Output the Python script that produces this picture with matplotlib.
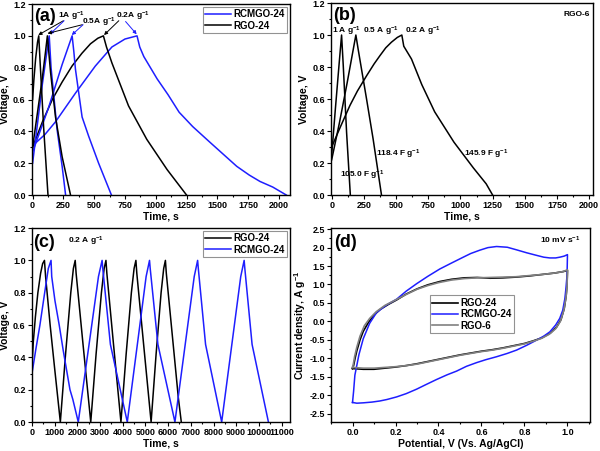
import matplotlib
matplotlib.use("Agg")
import matplotlib.pyplot as plt
from matplotlib.ticker import MultipleLocator

# --------------------------------
# STYLE
# --------------------------------
plt.rcParams.update({
    "font.family": ["Liberation Sans Narrow", "Liberation Sans", "DejaVu Sans"],
    "font.weight": "bold",
    "axes.labelweight": "bold",
    "axes.unicode_minus": False,
    "mathtext.fontset": "custom",
    "mathtext.rm": "Liberation Sans Narrow:bold",
    "mathtext.it": "Liberation Sans Narrow:bold",
    "mathtext.bf": "Liberation Sans Narrow:bold",
    "mathtext.default": "rm",
    "axes.linewidth": 1.0,
})

BLUE = "#1e1eff"
GRAY = "#808080"
TICK_SIZE = 6.5
LABEL_SIZE = 7.5
PANEL_SIZE = 13
LEGEND_SIZE = 7
NOTE_SIZE = 6
LW = 1.1

# --------------------------------
# DATA - (a) GCD, RGO-24 and RCMGO-24
# --------------------------------
a_rgo_1_t = [0, 10, 25, 40, 50, 60, 90, 125]
a_rgo_1_v = [0.6, 0.72, 0.86, 0.96, 1.0, 0.85, 0.42, 0.0]
a_rgo_05_t = [0, 40, 78, 105, 120, 146, 186, 240, 308]
a_rgo_05_v = [0.3, 0.52, 0.73, 0.9, 1.0, 0.77, 0.49, 0.24, 0.0]
a_rgo_02_t = [0, 80, 160, 240, 320, 400, 470, 530, 575, 600, 644, 779, 927, 1092, 1250]
a_rgo_02_v = [0.3, 0.46, 0.6, 0.71, 0.81, 0.89, 0.95, 0.985, 1.0, 0.93, 0.83, 0.56, 0.35, 0.16, 0.0]

a_rcm_1_t = [0, 40, 80, 120, 135, 150, 199, 240, 268]
a_rcm_1_v = [0.2, 0.45, 0.7, 0.92, 1.0, 0.8, 0.41, 0.18, 0.0]
a_rcm_05_t = [0, 130, 240, 321, 335, 348, 402, 455, 536, 640]
a_rcm_05_v = [0.27, 0.55, 0.82, 1.0, 0.9, 0.79, 0.49, 0.37, 0.2, 0.0]
a_rcm_02_t = [0, 100, 186, 348, 509, 644, 750, 848, 870, 903, 1011, 1100, 1190, 1300, 1442, 1658, 1760, 1847, 1950, 2060]
a_rcm_02_v = [0.31, 0.38, 0.46, 0.64, 0.81, 0.93, 0.98, 1.0, 0.93, 0.87, 0.73, 0.63, 0.52, 0.43, 0.33, 0.18, 0.125, 0.085, 0.05, 0.0]

# --------------------------------
# DATA - (b) GCD, RGO-6
# --------------------------------
b_1_t = [0, 30, 60, 77, 90, 116, 145]
b_1_v = [0.25, 0.55, 0.84, 1.0, 0.81, 0.39, 0.0]
b_05_t = [0, 60, 120, 188, 206, 271, 322, 387]
b_05_v = [0.22, 0.45, 0.7, 1.0, 0.91, 0.6, 0.35, 0.0]
b_02_t = [0, 70, 142, 200, 271, 330, 374, 420, 464, 510, 545, 560, 620, 700, 800, 950, 1100, 1200, 1250]
b_02_v = [0.3, 0.43, 0.56, 0.65, 0.745, 0.82, 0.87, 0.92, 0.955, 0.985, 1.0, 0.93, 0.85, 0.69, 0.52, 0.33, 0.17, 0.07, 0.0]

# --------------------------------
# DATA - (c) cycling at 0.2 A/g
# --------------------------------
c_rgo_t = [0, 60, 150, 260, 380, 470, 550,
           600, 800, 1000, 1250,
           1480, 1710, 1825, 1905, 1945, 2250, 2590,
           2825, 3060, 3180, 3260, 3300, 3600, 3920,
           4150, 4380, 4500, 4580, 4620, 4920, 5250,
           5470, 5690, 5805, 5880, 5920, 6230, 6450, 6580]
c_rgo_v = [0.35, 0.5, 0.65, 0.8, 0.92, 0.98, 1.0,
           0.9, 0.6, 0.33, 0.0,
           0.42, 0.8, 0.95, 1.0, 0.92, 0.48, 0.0,
           0.42, 0.8, 0.95, 1.0, 0.92, 0.47, 0.0,
           0.42, 0.8, 0.95, 1.0, 0.92, 0.48, 0.0,
           0.42, 0.8, 0.95, 1.0, 0.92, 0.47, 0.15, 0.0]
c_rcm_t = [0, 170, 350, 570, 720, 840,
           870, 1013, 1200, 1380, 1674, 1800, 2040,
           2565, 2930, 3090, 3120, 3456, 4200,
           4690, 5030, 5180, 5210, 5550, 6300,
           6800, 7150, 7300, 7330, 7650, 8360,
           8855, 9200, 9350, 9380, 9700, 10420]
c_rcm_v = [0.3, 0.45, 0.6, 0.81, 0.95, 1.0,
           0.9, 0.75, 0.6, 0.44, 0.2, 0.14, 0.0,
           0.53, 0.9, 1.0, 0.95, 0.48, 0.0,
           0.53, 0.9, 1.0, 0.95, 0.48, 0.0,
           0.53, 0.9, 1.0, 0.95, 0.48, 0.0,
           0.53, 0.9, 1.0, 0.95, 0.48, 0.0]

# --------------------------------
# DATA - (d) CV at 10 mV/s
# --------------------------------
d_rgo24_e = [0.0, 0.005, 0.012, 0.02, 0.035, 0.05, 0.075, 0.1, 0.13, 0.17, 0.205, 0.25, 0.3, 0.35,
             0.406, 0.46, 0.52, 0.58, 0.64, 0.7, 0.76, 0.82, 0.88, 0.94, 0.98, 1.0,
             0.998, 0.994, 0.985, 0.97, 0.95, 0.92, 0.88, 0.84, 0.8, 0.75, 0.7, 0.65, 0.6, 0.55,
             0.5, 0.45, 0.4, 0.35, 0.3, 0.25, 0.2, 0.15, 0.1, 0.05, 0.0]
d_rgo24_i = [-1.28, -1.2, -1.0, -0.8, -0.5, -0.27, -0.02, 0.17, 0.33, 0.47, 0.58, 0.74, 0.88, 0.99,
             1.08, 1.14, 1.18, 1.19, 1.17, 1.18, 1.2, 1.23, 1.27, 1.31, 1.35, 1.38,
             1.0, 0.7, 0.35, 0.05, -0.15, -0.32, -0.45, -0.53, -0.6, -0.66, -0.72, -0.77, -0.81, -0.86,
             -0.91, -0.97, -1.03, -1.09, -1.15, -1.2, -1.24, -1.27, -1.3, -1.3, -1.28]

d_rcm_e = [0.0, 0.005, 0.011, 0.03, 0.05, 0.08, 0.112, 0.16, 0.205, 0.25, 0.298, 0.35, 0.406, 0.46,
           0.515, 0.55, 0.592, 0.63, 0.67, 0.72, 0.763, 0.81, 0.856, 0.89, 0.918, 0.945, 0.964, 0.985, 1.0,
           0.998, 0.993, 0.988, 0.978, 0.964, 0.945, 0.918, 0.89, 0.856, 0.81, 0.763, 0.72, 0.67, 0.62,
           0.577, 0.53, 0.484, 0.44, 0.39, 0.34, 0.298, 0.25, 0.205, 0.16, 0.127, 0.09, 0.05, 0.02, 0.0]
d_rcm_i = [-2.2, -1.9, -1.46, -0.9, -0.47, -0.05, 0.24, 0.45, 0.6, 0.82, 1.02, 1.22, 1.42, 1.58,
           1.74, 1.84, 1.93, 2.0, 2.03, 2.01, 1.94, 1.86, 1.79, 1.74, 1.72, 1.72, 1.74, 1.77, 1.81,
           1.25, 0.9, 0.62, 0.3, 0.08, -0.1, -0.285, -0.4, -0.51, -0.65, -0.78, -0.87, -0.96, -1.04,
           -1.12, -1.22, -1.35, -1.45, -1.58, -1.72, -1.84, -1.96, -2.05, -2.12, -2.16, -2.19, -2.21, -2.22, -2.2]

d_rgo6_e = [0.0, 0.004, 0.01, 0.02, 0.035, 0.055, 0.08, 0.11, 0.15, 0.2, 0.25, 0.3, 0.35, 0.4,
            0.46, 0.52, 0.58, 0.64, 0.7, 0.76, 0.82, 0.88, 0.94, 0.98, 1.0,
            0.998, 0.993, 0.983, 0.967, 0.945, 0.915, 0.88, 0.84, 0.8, 0.75, 0.7, 0.65, 0.6, 0.55,
            0.5, 0.45, 0.4, 0.35, 0.3, 0.25, 0.2, 0.15, 0.1, 0.05, 0.0]
d_rgo6_i = [-1.25, -1.15, -0.95, -0.7, -0.4, -0.12, 0.08, 0.26, 0.43, 0.58, 0.73, 0.87, 0.97, 1.05,
            1.12, 1.16, 1.18, 1.19, 1.2, 1.21, 1.24, 1.27, 1.31, 1.35, 1.4,
            0.95, 0.65, 0.3, 0.0, -0.2, -0.35, -0.46, -0.54, -0.61, -0.67, -0.73, -0.78, -0.82, -0.87,
            -0.92, -0.98, -1.04, -1.1, -1.16, -1.2, -1.23, -1.25, -1.27, -1.27, -1.25]

GPER = r"$\mathregular{g^{-1}}$"


def style_axes(ax, xmajor, xminor, ymajor, yminor):
    ax.xaxis.set_major_locator(MultipleLocator(xmajor))
    ax.xaxis.set_minor_locator(MultipleLocator(xminor))
    ax.yaxis.set_major_locator(MultipleLocator(ymajor))
    ax.yaxis.set_minor_locator(MultipleLocator(yminor))
    ax.tick_params(which="both", direction="out", width=0.8, labelsize=TICK_SIZE, pad=1.5)
    ax.tick_params(which="major", length=3)
    ax.tick_params(which="minor", length=1.6)
    for lab in ax.get_xticklabels() + ax.get_yticklabels():
        lab.set_fontweight("bold")


def add_legend(ax, anchor, loc="upper right"):
    leg = ax.legend(loc=loc, bbox_to_anchor=anchor, fontsize=LEGEND_SIZE, frameon=True,
                    fancybox=False, edgecolor="#777777", handlelength=2.6, handletextpad=0.3,
                    borderpad=0.25, labelspacing=0.15, borderaxespad=0)
    leg.get_frame().set_linewidth(0.8)
    return leg


fig = plt.figure(figsize=(6.0, 4.51), dpi=100)

# --------------------------------
# (a)
# --------------------------------
ax = fig.add_axes([0.0533, 0.5676, 0.43, 0.4235])
ax.plot(a_rcm_02_t, a_rcm_02_v, color=BLUE, lw=LW, label="RCMGO-24")
ax.plot(a_rgo_02_t, a_rgo_02_v, color="black", lw=LW, label="RGO-24")
ax.plot(a_rcm_1_t, a_rcm_1_v, color=BLUE, lw=LW)
ax.plot(a_rcm_05_t, a_rcm_05_v, color=BLUE, lw=LW)
ax.plot(a_rgo_1_t, a_rgo_1_v, color="black", lw=LW)
ax.plot(a_rgo_05_t, a_rgo_05_v, color="black", lw=LW)
ax.set_xlim(-5, 2090)
ax.set_ylim(0, 1.2)
style_axes(ax, 250, 125, 0.2, 0.1)
ax.set_xlabel("Time, s", fontsize=LABEL_SIZE, labelpad=1)
ax.set_ylabel("Voltage, V", fontsize=LABEL_SIZE, labelpad=2)
ax.text(10, 1.12, "(a)", fontsize=PANEL_SIZE, fontweight="bold", va="center")
ax.text(210, 1.125, "1A " + GPER, fontsize=NOTE_SIZE, va="center")
ax.text(398, 1.085, "0.5A " + GPER, fontsize=NOTE_SIZE, va="center")
ax.text(674, 1.125, "0.2A " + GPER, fontsize=NOTE_SIZE, va="center")
arrows = [
    ((250, 1.095), (46, 1.005), "black"),
    ((256, 1.095), (140, 1.01), BLUE),
    ((404, 1.07), (121, 1.015), "black"),
    ((410, 1.07), (318, 1.005), BLUE),
    ((700, 1.095), (580, 1.005), "black"),
    ((755, 1.09), (845, 1.01), BLUE),
]
for start, end, col in arrows:
    ax.annotate("", xy=end, xytext=start,
                arrowprops=dict(arrowstyle="-|>", color=col, lw=0.7,
                                mutation_scale=5, shrinkA=0, shrinkB=0))
add_legend(ax, (0.99, 0.985))

# --------------------------------
# (b)
# --------------------------------
ax = fig.add_axes([0.5517, 0.5676, 0.4367, 0.4257])
ax.plot(b_1_t, b_1_v, color="black", lw=LW)
ax.plot(b_05_t, b_05_v, color="black", lw=LW)
ax.plot(b_02_t, b_02_v, color="black", lw=LW)
ax.set_xlim(-5, 2030)
ax.set_ylim(0, 1.2)
style_axes(ax, 250, 125, 0.2, 0.1)
ax.set_xlabel("Time, s", fontsize=LABEL_SIZE, labelpad=1)
ax.set_ylabel("Voltage, V", fontsize=LABEL_SIZE, labelpad=2)
ax.text(10, 1.12, "(b)", fontsize=PANEL_SIZE, fontweight="bold", va="center")
ax.text(1800, 1.13, "RGO-6", fontsize=NOTE_SIZE, va="center")
ax.text(5, 1.02, "1 A " + GPER, fontsize=NOTE_SIZE, va="center")
ax.text(240, 1.02, "0.5 A " + GPER, fontsize=NOTE_SIZE, va="center")
ax.text(569, 1.02, "0.2 A " + GPER, fontsize=NOTE_SIZE, va="center")
ax.text(65, 0.12, "105.0 F " + GPER, fontsize=NOTE_SIZE, va="center")
ax.text(345, 0.255, "118.4 F " + GPER, fontsize=NOTE_SIZE, va="center")
ax.text(1030, 0.255, "145.9 F " + GPER, fontsize=NOTE_SIZE, va="center")

# --------------------------------
# (c)
# --------------------------------
ax = fig.add_axes([0.0533, 0.0643, 0.43, 0.430])
ax.plot(c_rgo_t, c_rgo_v, color="black", lw=LW, label="RGO-24")
ax.plot(c_rcm_t, c_rcm_v, color=BLUE, lw=LW, label="RCMGO-24")
ax.set_xlim(0, 11370)
ax.set_ylim(0, 1.2)
style_axes(ax, 1000, 500, 0.2, 0.1)
ax.set_xlabel("Time, s", fontsize=LABEL_SIZE, labelpad=1)
ax.set_ylabel("Voltage, V", fontsize=LABEL_SIZE, labelpad=2)
ax.text(60, 1.11, "(c)", fontsize=PANEL_SIZE, fontweight="bold", va="center")
ax.text(1586, 1.115, "0.2 A " + GPER, fontsize=NOTE_SIZE, va="center")
add_legend(ax, (0.99, 0.985))

# --------------------------------
# (d)
# --------------------------------
ax = fig.add_axes([0.5517, 0.0643, 0.4317, 0.430])
ax.plot(d_rgo24_e, d_rgo24_i, color="black", lw=1.2, label="RGO-24")
ax.plot(d_rcm_e, d_rcm_i, color=BLUE, lw=LW, label="RCMGO-24")
ax.plot(d_rgo6_e, d_rgo6_i, color=GRAY, lw=1.2, label="RGO-6")
ax.set_xlim(-0.1, 1.105)
ax.set_ylim(-2.73, 2.53)
style_axes(ax, 0.2, 0.1, 0.5, 0.25)
ax.set_xlabel("Potential, V (Vs. Ag/AgCl)", fontsize=LABEL_SIZE, labelpad=1)
ax.set_ylabel("Current density, A " + GPER, fontsize=LABEL_SIZE, labelpad=1)
ax.text(-0.085, 2.15, "(d)", fontsize=PANEL_SIZE, fontweight="bold", va="center")
ax.text(0.87, 2.2, "10 mV " + r"$\mathregular{s^{-1}}$", fontsize=NOTE_SIZE, va="center")
add_legend(ax, (0.545, 0.555), loc="center")

fig.savefig("out.png", dpi=100)
